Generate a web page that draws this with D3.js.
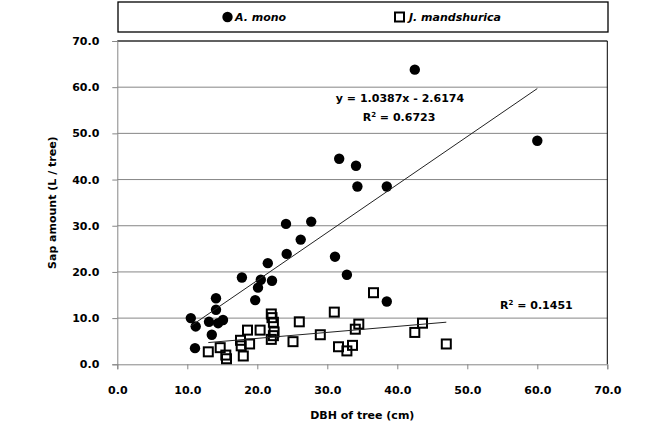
<!DOCTYPE html>
<html>
<head>
<meta charset="utf-8">
<script src="https://cdn.jsdelivr.net/npm/d3@7"></script>
<style>
  html, body { margin: 0; padding: 0; background: #fff; }
  text { font-family: "DejaVu Sans", sans-serif; font-weight: bold; fill: #000; }
</style>
</head>
<body>
<div id="chart"></div>
<script>
// ---- data ----
const seriesNames = ["A. mono", "J. mandshurica"];
const monoDBH = [10.5, 11.2, 11.1, 13.1, 13.5, 14.1, 14.1, 14.4, 15.1, 17.8, 19.7, 20.1, 20.5, 21.5,
                 22.1, 24.2, 24.1, 26.2, 27.7, 31.1, 31.7, 32.8, 34.1, 34.3, 38.5, 38.5, 42.5, 60.0];
const monoSap = [10.0, 8.2, 3.5, 9.2, 6.4, 14.3, 11.8, 8.9, 9.6, 18.8, 13.9, 16.6, 18.3, 21.9,
                 18.1, 23.9, 30.4, 27.0, 30.9, 23.3, 44.5, 19.4, 43.0, 38.5, 38.5, 13.6, 63.8, 48.4];
const mandDBH = [13.0, 14.7, 15.5, 15.6, 17.6, 17.7, 18.0, 18.6, 18.9, 20.4, 22.0, 22.1, 22.3, 22.4,
                 22.3, 22.0, 25.1, 26.0, 29.0, 31.0, 31.6, 32.8, 33.6, 34.0, 34.5, 36.6, 42.5, 43.6, 47.0];
const mandSap = [2.7, 3.6, 2.0, 1.2, 5.2, 4.0, 1.8, 7.4, 4.4, 7.4, 10.9, 10.1, 9.1, 7.0,
                 6.2, 5.4, 4.9, 9.2, 6.4, 11.3, 3.8, 2.9, 4.1, 7.6, 8.7, 15.5, 6.9, 8.9, 4.4];
const monoTrend = [1.0387, -2.6174];   // slope, intercept
const mandTrend = [0.1297, 3.02];      // slope, intercept (line as drawn)
const xTicks = [0, 10, 20, 30, 40, 50, 60, 70];
const yTicks = [0, 10, 20, 30, 40, 50, 60, 70];
const xTitle = "DBH of tree (cm)";
const yTitle = "Sap amount (L / tree)";
const monoEqText = "y = 1.0387x - 2.6174";
const monoR2 = "0.6723";
const mandR2 = "0.1451";

// ---- layout ----
const W = 651, H = 428;
const L = 117.3, R = 607.3, T = 41, B = 364.3;

const svg = d3.select("#chart").append("svg")
  .attr("width", W).attr("height", H)
  .style("display", "block");
svg.append("rect").attr("width", W).attr("height", H).attr("fill", "#fff");

const x = d3.scaleLinear().domain([0, 70]).range([L, R]);
const y = d3.scaleLinear().domain([0, 70]).range([B, T]);
const fmt = d3.format(".1f");

// gridlines
svg.append("g").selectAll("line").data(yTicks.filter(d => d > 0)).join("line")
  .attr("x1", L).attr("x2", R)
  .attr("y1", d => y(d)).attr("y2", d => y(d))
  .attr("stroke", "#868686").attr("stroke-width", 1);

// plot border (top/right)
svg.append("path")
  .attr("d", `M${L},${T}H${R}V${B}`)
  .attr("fill", "none").attr("stroke", "#000").attr("stroke-width", 1);

// axes
const gx = svg.append("g").attr("transform", `translate(0,${B})`)
  .call(d3.axisBottom(x).tickValues(xTicks).tickFormat(fmt).tickSize(5).tickPadding(14));
const gy = svg.append("g").attr("transform", `translate(${L},0)`)
  .call(d3.axisLeft(y).tickValues(yTicks).tickFormat(fmt).tickSize(5).tickPadding(13));
[gx, gy].forEach(g => {
  g.select(".domain").attr("stroke", "#868686");
  g.selectAll(".tick line").attr("stroke", "#868686");
  g.selectAll(".tick text").style("font-family", "DejaVu Sans").style("font-weight", "bold")
    .style("font-size", "11px").attr("fill", "#000");
});
gx.selectAll(".tick text").attr("dy", "0.32em").attr("y", 26);

// axis titles
svg.append("text").attr("x", (L + R) / 2).attr("y", 419)
  .attr("text-anchor", "middle").style("font-size", "11px").text(xTitle);
svg.append("text").attr("transform", `translate(56,${(T + B) / 2}) rotate(-90)`)
  .attr("text-anchor", "middle").style("font-size", "11px").text(yTitle);

// markers
const mono = monoDBH.map((d, i) => ({ x: d, y: monoSap[i] }));
const mand = mandDBH.map((d, i) => ({ x: d, y: mandSap[i] }));

svg.append("g").selectAll("circle").data(mono).join("circle")
  .attr("cx", d => x(d.x)).attr("cy", d => y(d.y)).attr("r", 5.2)
  .attr("fill", "#000");

const sq = 9;
svg.append("g").selectAll("rect").data(mand).join("rect")
  .attr("x", d => x(d.x) - sq / 2).attr("y", d => y(d.y) - sq / 2)
  .attr("width", sq).attr("height", sq)
  .attr("fill", "none").attr("stroke", "#000").attr("stroke-width", 2);

// trend lines
function trend(data, coef) {
  const xs = d3.extent(data, d => d.x);
  return xs.map(v => ({ x: v, y: coef[0] * v + coef[1] }));
}
const line = d3.line().x(d => x(d.x)).y(d => y(d.y));
svg.append("path").attr("d", line(trend(mono, monoTrend)))
  .attr("fill", "none").attr("stroke", "#222").attr("stroke-width", 1);
svg.append("path").attr("d", line(trend(mand, mandTrend)))
  .attr("fill", "none").attr("stroke", "#222").attr("stroke-width", 1);

// trend labels
svg.append("text").attr("x", 400).attr("y", 102).attr("text-anchor", "middle")
  .style("font-size", "11px").text(monoEqText);
function r2Label(tx, ty, anchor, val) {
  const t = svg.append("text").attr("x", tx).attr("y", ty).attr("text-anchor", anchor)
    .style("font-size", "11px");
  t.append("tspan").text("R");
  t.append("tspan").attr("dy", -4).style("font-size", "7px").text("2");
  t.append("tspan").attr("dy", 4).text(" = " + val);
}
r2Label(399, 121, "middle", monoR2);
r2Label(500, 309, "start", mandR2);

// legend
const lg = svg.append("g");
lg.append("rect").attr("x", 118).attr("y", 2).attr("width", 490).attr("height", 30)
  .attr("fill", "#fff").attr("stroke", "#000").attr("stroke-width", 1.3);
lg.append("circle").attr("cx", 227.5).attr("cy", 17).attr("r", 5.2).attr("fill", "#000");
lg.append("text").attr("x", 235).attr("y", 21).style("font-size", "11px")
  .style("font-style", "italic").text(seriesNames[0]);
lg.append("rect").attr("x", 399.5 - sq / 2).attr("y", 17 - sq / 2).attr("width", sq).attr("height", sq)
  .attr("fill", "none").attr("stroke", "#000").attr("stroke-width", 2);
lg.append("text").attr("x", 409).attr("y", 21).style("font-size", "11px")
  .style("font-style", "italic").text(seriesNames[1]);
</script>
</body>
</html>
